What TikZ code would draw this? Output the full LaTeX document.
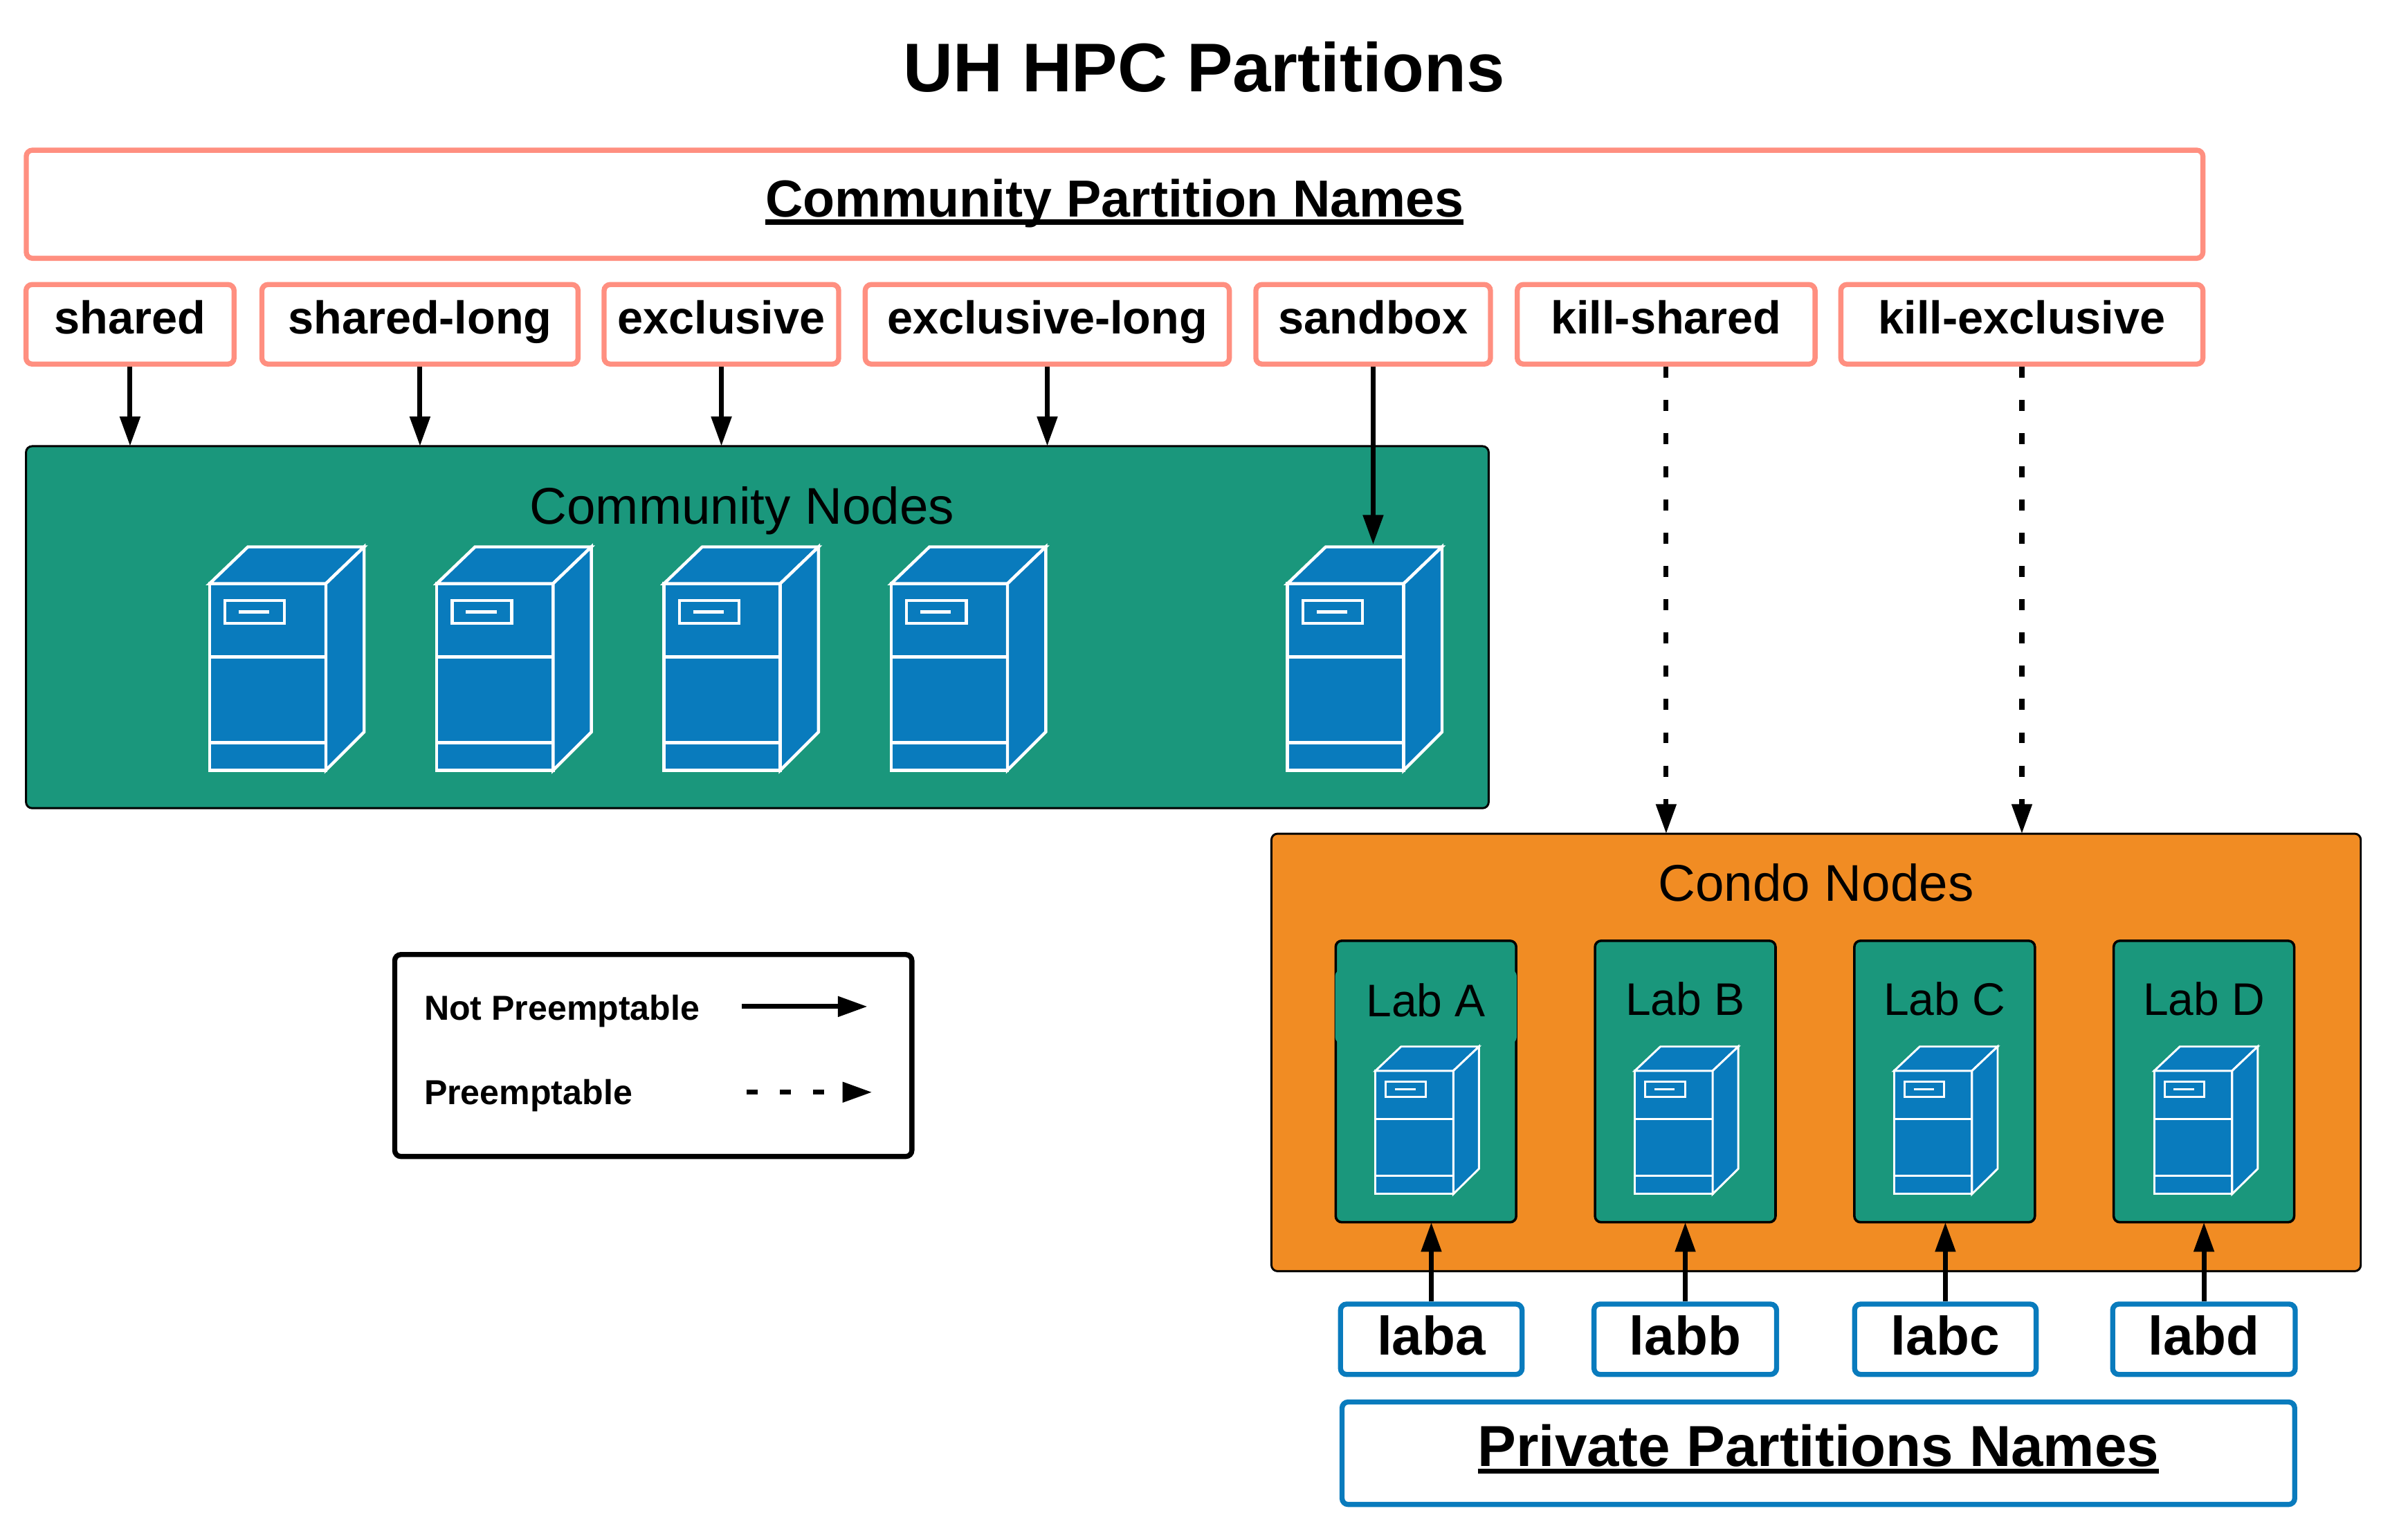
\documentclass[tikz,border=0pt]{standalone}
\usepackage{fontspec}
\setmainfont{Liberation Sans}
\usepackage{xcolor}
\usetikzlibrary{arrows.meta,positioning}
\definecolor{salmon}{HTML}{FF8F80}
\definecolor{labgreen}{HTML}{1A977C}
\definecolor{condoorange}{HTML}{F18C23}
\definecolor{srvblue}{HTML}{097BBD}
\newsavebox{\headbox}
\newcommand{\headline}[1]{\sbox{\headbox}{#1}\rlap{\rule[-3.7pt]{\wd\headbox}{2.5pt}}\usebox{\headbox}}
\tikzset{
	fsize/.style={font=\fontsize{#1}{#1}\selectfont},
	bfsize/.style={font=\bfseries\fontsize{#1}{#1}\selectfont},
	namebox/.style={draw=salmon,fill=white,line width=2.5pt,rounded corners=3pt,inner sep=0pt,bfsize=22.6,text height=24pt,text depth=15pt},
	namehead/.style={namebox,bfsize=25.55,text height=32.75pt,text depth=20.25pt},
	labbox/.style={namebox,draw=srvblue,bfsize=26.6,text height=25pt,text depth=9.5pt},
	labhead/.style={namebox,draw=srvblue,bfsize=28.35,text height=31.5pt,text depth=18.75pt},
	group/.style={draw=black,line width=1pt,rounded corners=3pt,inner sep=0pt,outer sep=0pt},
	labgroup/.style={group,fill=labgreen,line width=1.2pt,minimum width=88.5pt,minimum height=138pt},
	plainarrow/.style={-{Triangle[length=14.5pt,width=9.6pt]},line width=2.4pt},
	dotarrow/.style={plainarrow,dash pattern=on 5.4pt off 10.9pt},
	server/.pic={
		\draw[pic actions] (0,0) rectangle (76,122);
		\draw[pic actions] (0,0) -- (25,-24) -- (101,-24) -- (76,0) -- cycle;
		\draw[pic actions] (76,0) -- (101,-24) -- (101,97) -- (76,122) -- cycle;
		\draw[pic actions] (10,11) rectangle (49,26);
		\draw[pic actions] (19,18.5) -- (39,18.5);
		\draw[pic actions] (0,48) -- (76,48);
		\draw[pic actions] (0,104) -- (76,104);
	},
}
\begin{document}
\begin{tikzpicture}[x=0.75pt,y=0.75pt,yscale=-1,xscale=1]
	\useasboundingbox (0,0) rectangle (1568,1006.3);
	% title
	\node[bfsize=33.8] (title) at (787,44) {UH HPC Partitions};
	
	% community partition names
	\node[namehead,minimum width=1067pt,minimum height=53pt] (commnames) at (728.5,133.5) {\headline{Community Partition Names}};
	\foreach \nm/\cx/\bw/\lbl in {shared/85/102/shared,sharedlong/274.5/155/shared-long,exclusive/471.5/115/exclusive,exclusivelong/684.5/178.5/exclusive-long,sandbox/897.5/115/sandbox,killshared/1089/146/kill-shared,killexclusive/1321.5/177.5/kill-exclusive}
		\node[namebox,minimum width=\bw pt] (\nm) at (\cx,212) {\lbl};
	
	% community nodes
	\node[group,fill=labgreen,minimum width=717pt,minimum height=177.5pt] (community) at (495,410) {};
	\node[fsize=25.3] (communitylbl) at (485,334) {Community Nodes};
	\foreach \sx in {137,285.5,434,582.5,841.5}
		\pic[draw=white,fill=srvblue,line width=1.5pt,yscale=-1] at (\sx,381.5) {server};
	\coordinate (sandboxsrv) at (897.5,356);
	
	% condo nodes
	\node[group,fill=condoorange,minimum width=534pt,minimum height=214.5pt] (condo) at (1187,688) {};
	\node[fsize=25.3] (condolbl) at (1187,577) {Condo Nodes};
	\foreach \nm/\cx/\lbl in {labB/1101.5/Lab B,labC/1271/Lab C,labD/1440.5/Lab D} {
		\node[labgroup] (\nm) at (\cx,707) {};
		\node[fsize=22.4] (\nm lbl) at (\cx,653) {\lbl};
	}
	\node[labgroup] (labA) at (932,707) {};
	\node[fsize=22.4,fill=labgreen,rounded corners=3pt,minimum width=89pt,minimum height=36pt] (labAlbl) at (932,658) {\raisebox{6.2pt}{Lab A}};
	\foreach \sx in {899,1068.5,1238,1408}
		\pic[draw=white,fill=srvblue,line width=1pt,xscale=0.67,yscale=-0.66] at (\sx,700) {server};
	
	% private partition names
	\foreach \nm/\cx/\bw/\lbl in {laba/935.5/89/laba,labb/1101.5/89.5/labb,labc/1271.5/89/labc,labd/1440.5/89.5/labd}
		\node[labbox,minimum width=\bw pt] (\nm) at (\cx,875.5) {\lbl};
	\node[labhead,minimum width=467pt,minimum height=50pt] (privnames) at (1188.5,950) {\headline{Private Partitions Names}};
	
	% legend
	\node[draw=black,line width=2.5pt,rounded corners=3pt,fill=white,minimum width=253.5pt,minimum height=99pt] (legend) at (427,690) {};
	\node[bfsize=17,anchor=west,inner sep=0pt] (notpre) at (277,661) {Not Preemptable};
	\node[bfsize=17,anchor=west,inner sep=0pt] (pre) at (277,716) {Preemptable};
	\coordinate (notpreA) at (485,658);
	\coordinate (notpreB) at (567,658);
	\coordinate (preA) at (488,714);
	\coordinate (preB) at (570,714);
	\draw[plainarrow] (notpreA) -- (notpreB);
	\draw[dotarrow] (preA) -- (preB);
	
	% arrows
	\foreach \nm in {shared,sharedlong,exclusive,exclusivelong}
		\draw[plainarrow] (\nm.south) -- (\nm.south |- community.north);
	\draw[plainarrow] (sandbox.south) -- (sandboxsrv);
	\draw[dotarrow] (killshared.south) -- (killshared.south |- condo.north);
	\draw[dotarrow] (killexclusive.south) -- (killexclusive.south |- condo.north);
	\foreach \nm/\lab in {laba/labA,labb/labB,labc/labC,labd/labD}
		\draw[plainarrow] (\nm.north) -- (\nm.north |- \lab.south);
\end{tikzpicture}
\end{document}
